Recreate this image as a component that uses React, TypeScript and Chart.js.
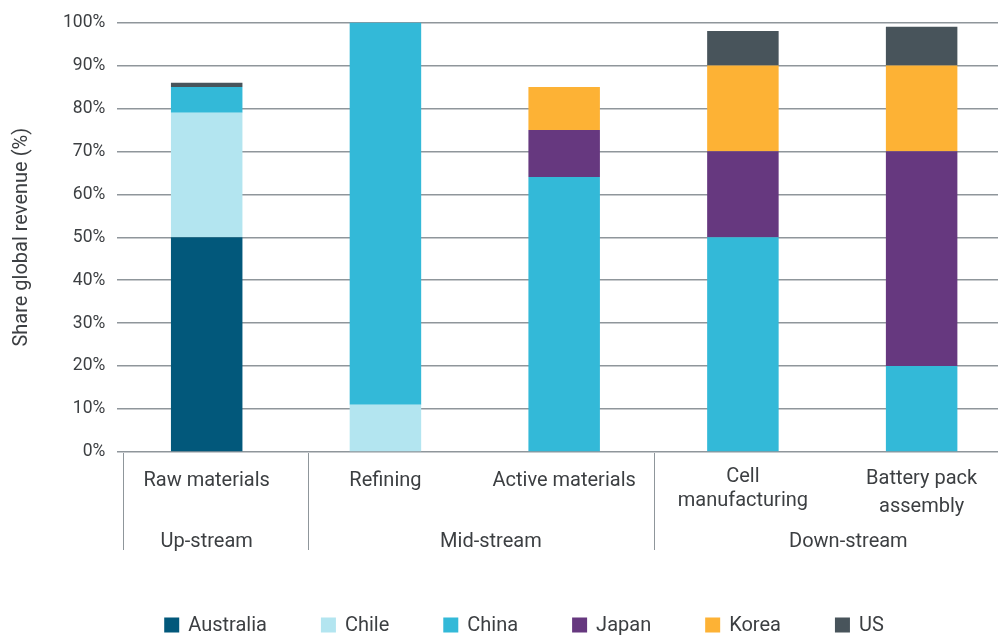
import React, { useEffect, useRef } from 'react';
import { Chart, registerables } from 'chart.js';

Chart.register(...registerables);

// ---- data ----
const categories: (string | string[])[] = [
  'Raw materials',
  'Refining',
  'Active materials',
  ['Cell', 'manufacturing'],
  ['Battery pack', 'assembly'],
];
const australia = [50, 0, 0, 0, 0];
const chile = [29, 11, 0, 0, 0];
const china = [6, 89, 64, 50, 20];
const japan = [0, 0, 11, 20, 50];
const korea = [0, 0, 10, 20, 20];
const us = [1, 0, 0, 8, 9];

const yTicks = [0, 10, 20, 30, 40, 50, 60, 70, 80, 90, 100];

const stageLabels = ['Up-stream', 'Mid-stream', 'Down-stream'];
const stagePositions = [0, 1.59, 3.59];
const stageSeparators = [-0.47, 0.565, 2.5];

const seriesNames = ['Australia', 'Chile', 'China', 'Japan', 'Korea', 'US'];
const seriesColors = ['#02587b', '#b3e5f0', '#33b9d8', '#66387f', '#fdb235', '#48545b'];

const FONT = 'Roboto';
const TEXT = '#3c3f42';
const GRID = '#8f969b';

const stagePlugin = {
  id: 'stages',
  afterDraw(chart: any) {
    const { ctx, chartArea } = chart;
    const xs = chart.scales.x;
    ctx.save();
    ctx.strokeStyle = GRID;
    ctx.lineWidth = 1;
    stageSeparators.forEach((v) => {
      const px = Math.round(xs.getPixelForValue(v)) + 0.5;
      ctx.beginPath();
      ctx.moveTo(px, chartArea.bottom + 1);
      ctx.lineTo(px, chartArea.bottom + 98);
      ctx.stroke();
    });
    ctx.fillStyle = TEXT;
    ctx.font = `20px ${FONT}`;
    ctx.textAlign = 'center';
    ctx.textBaseline = 'middle';
    stageLabels.forEach((t, i) => {
      ctx.fillText(t, xs.getPixelForValue(stagePositions[i]), chartArea.bottom + 90);
    });
    ctx.restore();
  },
};

const legendPlugin = {
  id: 'customLegend',
  afterDraw(chart: any) {
    const { ctx } = chart;
    const ds = chart.data.datasets;
    ctx.save();
    ctx.font = `20px ${FONT}`;
    const box = 15;
    const gapText = 9;
    const gapItem = 54;
    const widths = ds.map((d: any) => ctx.measureText(d.label).width);
    const total =
      widths.reduce((a: number, w: number) => a + box + gapText + w, 0) + gapItem * (ds.length - 1);
    let x = 499 + 25 - total / 2;
    const y = chart.height - 12;
    ctx.textBaseline = 'middle';
    ctx.textAlign = 'left';
    ds.forEach((d: any, i: number) => {
      ctx.fillStyle = d.backgroundColor;
      ctx.fillRect(x, y - box / 2, box, box);
      ctx.fillStyle = TEXT;
      ctx.fillText(d.label, x + box + gapText, y + 1);
      x += box + gapText + widths[i] + gapItem;
    });
    ctx.restore();
  },
};

export default function App() {
  const ref = useRef<HTMLCanvasElement>(null);
  useEffect(() => {
    const values = [australia, chile, china, japan, korea, us];
    const chart = new Chart(ref.current as HTMLCanvasElement, {
      type: 'bar',
      data: {
        labels: categories,
        datasets: seriesNames.map((name, i) => ({
          label: name,
          data: values[i],
          backgroundColor: seriesColors[i],
          borderWidth: 0,
          barPercentage: 0.4,
          categoryPercentage: 1,
        })),
      },
      options: {
        animation: false,
        responsive: false,
        maintainAspectRatio: false,
        layout: { padding: { top: 22, left: 8, right: 1, bottom: 111 } },
        plugins: { legend: { display: false }, tooltip: { enabled: false } },
        scales: {
          x: {
            stacked: true,
            grid: { display: false },
            border: { display: false },
            ticks: {
              padding: 5,
              color: TEXT,
              maxRotation: 0,
              autoSkip: false,
              font: (c: any) => ({
                family: FONT,
                size: 20,
                lineHeight: c.index === 3 ? 1.2 : c.index === 4 ? 1.4 : 1.6,
              }),
            },
          },
          y: {
            stacked: true,
            min: 0,
            max: 100,
            afterBuildTicks: (s: any) => {
              s.ticks = yTicks.map((v) => ({ value: v }));
            },
            ticks: {
              padding: 12,
              color: TEXT,
              font: { family: FONT, size: 17.5 },
              callback: (v: any) => v + '%',
            },
            grid: { color: GRID, lineWidth: 1.5, drawTicks: false },
            border: { display: false },
            title: {
              display: true,
              text: 'Share global revenue (%)',
              color: TEXT,
              font: { family: FONT, size: 20 },
              padding: { top: 2, bottom: 17 },
            },
          },
        },
      },
      plugins: [stagePlugin, legendPlugin],
    });
    return () => chart.destroy();
  }, []);
  return (
    <div
      style={{
        position: 'fixed',
        left: 0,
        top: 0,
        width: 998,
        height: 637,
        overflow: 'hidden',
        background: '#fff',
      }}
    >
      <canvas ref={ref} width={1012} height={637} style={{ display: 'block', width: 1012, height: 637 }} />
    </div>
  );
}
